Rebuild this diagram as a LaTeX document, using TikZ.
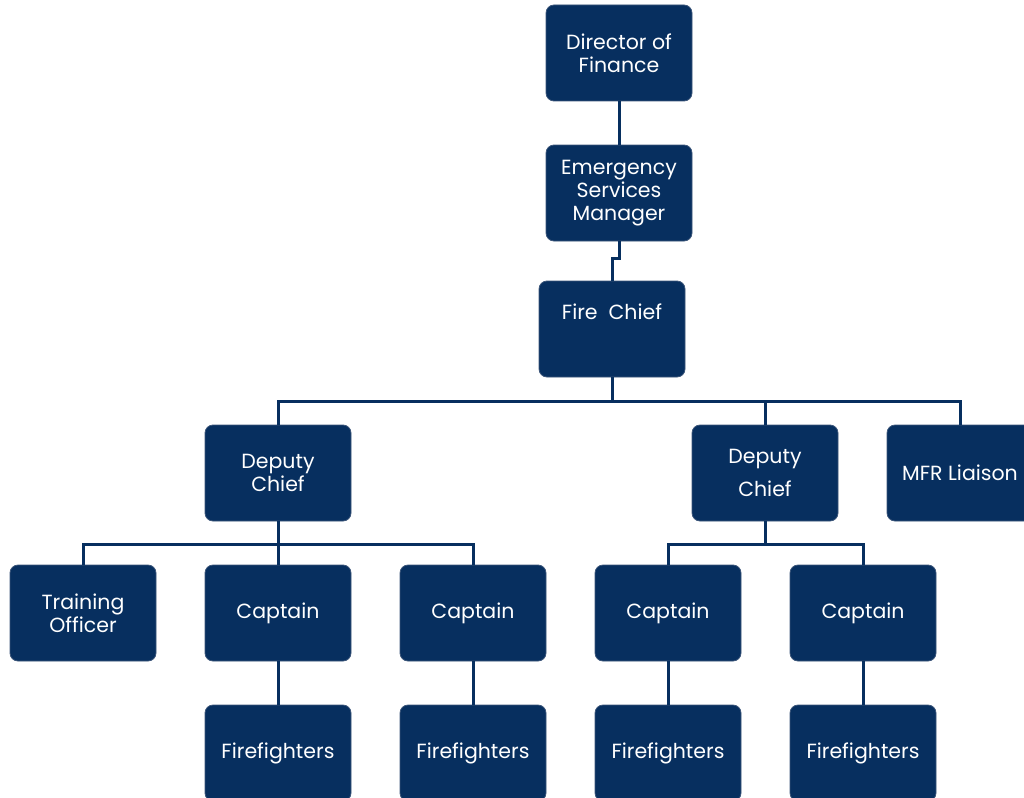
\documentclass[tikz,border=0pt]{standalone}
\usepackage{fontspec}
\setmainfont{Poppins}
\usetikzlibrary{calc}
\definecolor{navy}{RGB}{7,47,95}
\definecolor{navyedge}{RGB}{60,86,122}
\begin{document}
\begin{tikzpicture}[x=1pt,y=-1pt,
  box/.style={draw=navyedge, line width=0.8pt, fill=navy, rounded corners=8pt,
    minimum width=146pt, minimum height=96pt, inner sep=0pt,
    text=white, align=center, font=\fontsize{20.5}{23}\selectfont},
  lbl/.style={text=white, align=center, inner sep=0pt, font=\fontsize{20.5}{23}\selectfont},
  link/.style={draw=navy, line width=3pt}]
\clip (0,0) rectangle (1024,797);

% top chain
\node[box] (dir) at (619,53) {Director of\\Finance};
\node[box] (esm) at (619,193) {Emergency\\Services\\Manager};
\node[box] (fc)  at (612,329) {};
\node[lbl] (fct) at ($(fc.center)+(0,-17)$) {Fire\ \ Chief};

% second level
\node[box] (dc1) at (278,473) {Deputy\\Chief};
\node[box] (dc2) at (765,473) {Deputy\\[10pt]Chief};
\node[box] (mfr) at (960,473) {MFR Liaison};

% third level
\node[box] (tro) at (83,613)  {Training\\Officer};
\node[box] (cp1) at (278,613) {Captain};
\node[box] (cp2) at (473,613) {Captain};
\node[box] (cp3) at (668,613) {Captain};
\node[box] (cp4) at (863,613) {Captain};

% bottom row
\node[box] (ff1) at (278,753) {Firefighters};
\node[box] (ff2) at (473,753) {Firefighters};
\node[box] (ff3) at (668,753) {Firefighters};
\node[box] (ff4) at (863,753) {Firefighters};

% connectors
\draw[link] (dir.south) -- (esm.north);
\draw[link] (esm.south) -- ++(0,17) coordinate (jog) -| (fc.north);

\draw[link] (fc.south) -- ++(0,24) coordinate (bus1);
\draw[link] (dc1.north) |- (bus1) -| (mfr.north);
\draw[link] (dc2.north) -- (dc2.north |- bus1);

\draw[link] (dc1.south) -- ++(0,23) coordinate (bus2);
\draw[link] (tro.north) |- (bus2) -| (cp2.north);
\draw[link] (cp1.north) -- (cp1.north |- bus2);

\draw[link] (dc2.south) -- ++(0,23) coordinate (bus3);
\draw[link] (cp3.north) |- (bus3) -| (cp4.north);

\draw[link] (cp1.south) -- (ff1.north);
\draw[link] (cp2.south) -- (ff2.north);
\draw[link] (cp3.south) -- (ff3.north);
\draw[link] (cp4.south) -- (ff4.north);
\end{tikzpicture}
\end{document}
